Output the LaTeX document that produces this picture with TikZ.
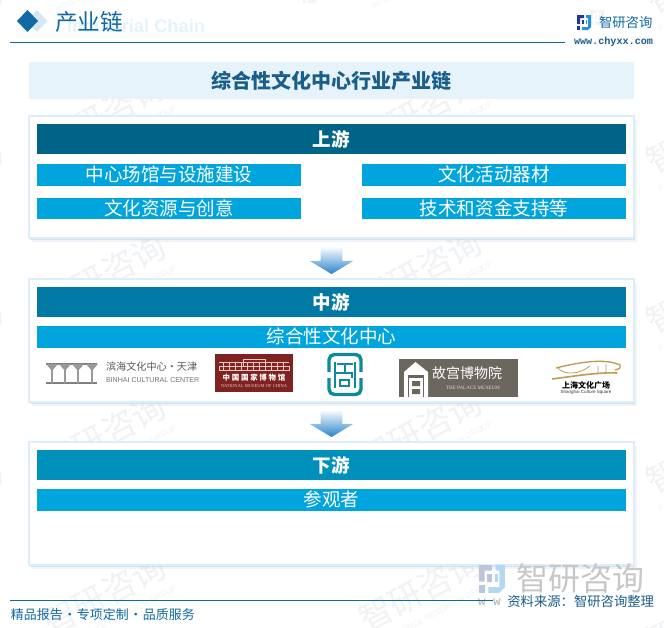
\documentclass[tikz,border=0pt]{standalone}
\usepackage{fontspec}
\setmainfont{Noto Sans CJK SC}
\newfontfamily\latinsans{Liberation Sans}
\newfontfamily\latinserif{Liberation Serif}
\newfontfamily\latinmono{Liberation Mono}
\usepackage{xcolor}
\definecolor{chainblue}{HTML}{0F6AA3}
\definecolor{titleblue}{HTML}{1A5E8A}
\definecolor{bandblue}{HTML}{E6F3FB}
\definecolor{edgeblue}{HTML}{DCEEF9}
\definecolor{shadeblue}{HTML}{BCD6E8}
\definecolor{upbar}{HTML}{006488}
\definecolor{midbar}{HTML}{0079A5}
\definecolor{lowbar}{HTML}{0090BC}
\definecolor{itemblue}{HTML}{00A5DD}
\definecolor{markdark}{HTML}{1F3C88}
\definecolor{marklight}{HTML}{2B8FD6}
\definecolor{wmgrey}{HTML}{F0F2F4}
\definecolor{wmblue}{HTML}{F0F4F8}
\definecolor{museumred}{HTML}{7E2222}
\definecolor{sealteal}{HTML}{0E8A9A}
\definecolor{palacegrey}{HTML}{6B665E}
\definecolor{pinkline}{HTML}{E8C8C0}
\definecolor{goldline}{HTML}{C09A55}
\usepackage{tikz}
\usetikzlibrary{shapes,arrows,positioning,shadows}
\def\px{0.75pt}
\tikzset{
    every node/.style={outer sep=0pt},
    pics/logomark/.style n args={2}{code={
        \fill[#1] (0,0) -- (7,0) -- (7,3) -- (3,3) -- (3,9) -- (0,9) -- cycle;
        \fill[#1] (0,11) rectangle (3,15);
        \fill[#1] (4.5,5) rectangle (7,9);
        \fill[#2] (9,0) -- (14,0) -- (14,12) -- (11,15) -- (5,15) -- (5,12) -- (11,12) -- (11,3) -- (9,3) -- cycle;
        \fill[#2] (8.5,5) rectangle (10,9);
    }}
}
\newcommand{\wmtile}[2]{
    \begin{scope}[shift={(#1,#2)}, rotate=28]
        \begin{scope}[scale=3]
            \pic {logomark={wmblue}{wmblue}};
        \end{scope}
        \node[transform shape, anchor=west, text=wmgrey, font=\fontsize{25}{27}\selectfont] (wmname) at (50,22) {智研咨询};
        \node[transform shape, anchor=north east, text=wmgrey, font=\latinsans\fontsize{6}{7}\selectfont] (wmsub) at (wmname.south east) {INTELLIGENCE RESEARCH GROUP};
    \end{scope}
}
\begin{document}
\begin{tikzpicture}[
        x=0.75pt, y=-0.75pt,
        band/.style={rectangle, fill=bandblue, minimum width=605*\px, minimum height=37*\px, inner sep=0pt, text=titleblue, font=\bfseries\fontsize{15}{17}\selectfont},
        panel/.style={rectangle, draw=edgeblue, line width=0.8pt, fill=white, minimum width=605*\px, inner sep=0pt,
            drop shadow={shadow xshift=2.5pt, shadow yshift=-3pt, fill=shadeblue, opacity=0.25},
            drop shadow={shadow xshift=1pt, shadow yshift=-1.5pt, fill=shadeblue, opacity=0.55}},
        bar/.style={rectangle, minimum width=589*\px, minimum height=30*\px, inner sep=0pt, text=white, font=\bfseries\fontsize{13.9}{16}\selectfont},
        item/.style={rectangle, fill=itemblue, minimum height=21.5*\px, inner sep=0pt, text=white, font=\fontsize{13.9}{16}\selectfont},
        flow/.style={single arrow, shape border rotate=270, minimum height=26*\px, minimum width=43*\px, single arrow head extend=11*\px, single arrow tip angle=118, single arrow head indent=0pt, inner xsep=10.5*\px, inner ysep=0pt, top color=bandblue!50, middle color=marklight!65, bottom color=marklight!85!markdark}
    ]
        \clip (0,0) rectangle (664,628);
        \fill[white] (0,0) rectangle (664,628);

        % watermark tiles
        \foreach \wy in {-8,152,312,472,632} {
            \wmtile{-13}{\wy}
            \wmtile{303}{\wy-4}
            \wmtile{590}{\wy+18}
        }

        % page head
        \node[diamond, fill=bandblue!60!shadeblue, minimum width=21*\px, minimum height=22*\px, inner sep=0pt] (markback) at (37,21) {};
        \node[diamond, fill=chainblue, minimum width=21*\px, minimum height=22*\px, inner sep=0pt] (markfront) at (27.5,21) {};
        \node[anchor=west, inner sep=0pt, text=bandblue, font=\latinsans\bfseries\fontsize{13.7}{15}\selectfont] (subhead) at (67,26) {Industrial Chain};
        \node[anchor=west, inner sep=0pt, text=chainblue, font=\fontsize{17}{19}\selectfont] (head) at (55,22) {产业链};
        \coordinate (ruleleft) at (10,42);
        \coordinate (ruleright) at (565,42);
        \draw[chainblue, line width=0.75pt] (ruleleft) -- (ruleright);
        \pic at (577,15) {logomark={markdark}{marklight}};
        \node[anchor=west, inner sep=0pt, text=chainblue, font=\fontsize{10}{12}\selectfont] (brand) at (599,22) {智研咨询};
        \node[anchor=west, inner sep=0pt, text=titleblue, font=\latinmono\bfseries\fontsize{7.6}{9}\selectfont] (site) at (574,42) {www.chyxx.com};

        % the chain
        \node[band] (title) at (331.5,80.5) {综合性文化中心行业产业链};

        \node[panel, minimum height=122*\px, below=17*\px of title] (upper) {};
        \node[bar, fill=upbar, below=8*\px of upper.north] (upperbar) {上游};
        \node[item, minimum width=264*\px, below right=10*\px and 0pt of upperbar.south west] (venue) {中心场馆与设施建设};
        \node[item, minimum width=264*\px, below left=10*\px and 0pt of upperbar.south east] (gear) {文化活动器材};
        \node[item, minimum width=264*\px, below=12*\px of venue] (creative) {文化资源与创意};
        \node[item, minimum width=264*\px, below=12*\px of gear] (funds) {技术和资金支持等};

        \node[flow, below=10*\px of upper] (flowone) {};

        \node[panel, minimum height=123*\px, below=41*\px of upper] (middle) {};
        \node[bar, fill=midbar, below=8*\px of middle.north] (middlebar) {中游};
        \node[item, minimum width=589*\px, below=9*\px of middlebar] (centre) {综合性文化中心};

        \node[flow, below=9*\px of middle] (flowtwo) {};

        \node[panel, minimum height=123*\px, below=40*\px of middle] (lower) {};
        \node[bar, fill=lowbar, below=8*\px of lower.north] (lowerbar) {下游};
        \node[item, minimum width=589*\px, below=9*\px of lowerbar] (visitor) {参观者};

        % logos
        \draw[gray, line width=0.9pt] (46,364) -- (97,364) (46,383) -- (97,383);
        \foreach \cx in {52,65,78,92} {
            \fill[gray!80] (\cx-6,364) -- (\cx+6,364) -- (\cx+0.8,370) -- (\cx+0.8,383) -- (\cx-0.8,383) -- (\cx-0.8,370) -- cycle;
        }
        \node[anchor=west, inner sep=0pt, text=black!65, font=\fontsize{7.6}{9}\selectfont] (binhai) at (106,367) {滨海文化中心·天津};
        \node[anchor=west, inner sep=0pt, text=black!55, font=\latinsans\fontsize{5.3}{6}\selectfont] (binhaien) at (106,380) {BINHAI CULTURAL CENTER};

        \fill[museumred] (215,354) rectangle (293,392);
        \draw[pinkline, line width=0.5pt] (219,366) rectangle (289,370) (219,362) -- (289,362) (243,359) rectangle (265,366);
        \foreach \mx in {223,229,...,286} { \draw[pinkline, line width=0.4pt] (\mx,362) -- (\mx,370); }
        \node[inner sep=0pt, text=white, font=\bfseries\fontsize{5.6}{7}\selectfont] (museum) at (254,378) {中 国 国 家 博 物 馆};
        \node[inner sep=0pt, text=pinkline, font=\latinserif\fontsize{3.4}{4}\selectfont] (museumen) at (254,386) {NATIONAL MUSEUM OF CHINA};

        \draw[sealteal, line width=2.6pt, rounded corners=4pt] (329,372) -- (329,354.5) -- (361,354.5) -- (361,372);
        \draw[sealteal, line width=2.6pt, rounded corners=4pt] (329,378) -- (329,394.5) -- (361,394.5) -- (361,378);
        \draw[sealteal, line width=1.7pt] (337,364) -- (353,364) (345,364) -- (345,373) (336,373) -- (352,373) -- (352,378) (335,362) -- (335,388) (340,380) rectangle (349,386) (355,362) -- (355,388);

        \fill[palacegrey] (399,359) rectangle (518,397);
        \fill[white] (404,397) -- (404,372) -- (415.5,362) -- (428,372) -- (428,397) -- cycle;
        \fill[palacegrey] (408,375) rectangle (424,397);
        \fill[white] (409,378) rectangle (423,397);
        \fill[palacegrey] (412,381) rectangle (420,386) (412,389) rectangle (420,394);
        \node[anchor=west, inner sep=0pt, text=white, font=\fontsize{10.5}{12}\selectfont] (palace) at (432,373) {故宫博物院};
        \node[inner sep=0pt, text=white!75!palacegrey, font=\latinserif\fontsize{3.8}{4}\selectfont] (palaceen) at (473,388) {THE PALACE MUSEUM};

        \draw[goldline, line width=1.2pt] (552,379) .. controls (575,376) and (600,372) .. (617,373);
        \draw[goldline, line width=1pt] (556,368) .. controls (580,362) and (605,358) .. (620,365) .. controls (621,369) and (618,369) .. (615,370);
        \draw[goldline, line width=0.6pt] (558,368) .. controls (565,376) and (580,374) .. (590,366) (598,366) -- (598,374) (606,364) -- (606,373);
        \node[inner sep=0pt, text=black, font=\bfseries\fontsize{6}{7}\selectfont] (square) at (586,385) {上海文化广场};
        \node[inner sep=0pt, text=black!80, font=\latinsans\fontsize{3.4}{4}\selectfont] (squareen) at (586,392.5) {Shanghai Culture Square};

        % page foot
        \pic[scale=1.85] at (479,565) {logomark={markdark!30}{marklight!35}};
        \node[anchor=west, inner sep=0pt, text=black!22, font=\fontsize{24}{26}\selectfont] (stamp) at (516,578.5) {智研咨询};
        \node[anchor=west, inner sep=0pt, text=black!25, font=\latinmono\bfseries\fontsize{9.5}{10}\selectfont] (stampsite) at (478,602) {w w};
        \coordinate (footleft) at (10,600);
        \coordinate (footright) at (493,600);
        \draw[chainblue, line width=0.75pt] (footleft) -- (footright);
        \node[anchor=west, inner sep=0pt, text=chainblue, font=\fontsize{9.7}{11}\selectfont] (slogan) at (11,615) {精品报告\hspace{0.5pt}·\hspace{0.5pt}专项定制\hspace{0.5pt}·\hspace{0.5pt}品质服务};
        \node[anchor=east, inner sep=0pt, text=titleblue, font=\fontsize{10}{12}\selectfont] (source) at (654,601) {资料来源：智研咨询整理};
    \end{tikzpicture}
\end{document}
